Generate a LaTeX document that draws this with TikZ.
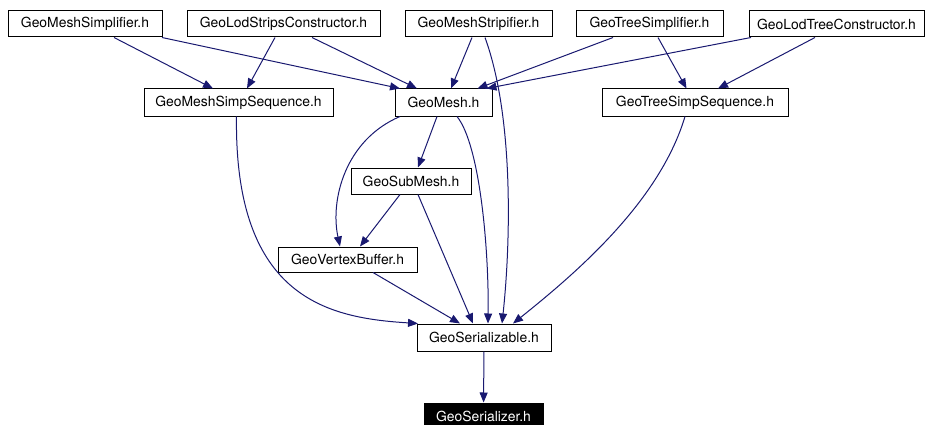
\documentclass[tikz,border=0pt]{standalone}
\usepackage{fontspec}
\setmainfont{TeX Gyre Heros}
\usetikzlibrary{arrows.meta}
\definecolor{edgeblue}{HTML}{191970}
\begin{document}
\begin{tikzpicture}[x=1pt,y=-1pt,
  box/.style={draw=black, line width=1pt, fill=white, rectangle, inner sep=0pt,
    minimum height=26pt, font=\fontsize{13.9}{16}\selectfont, text=black},
  focus/.style={box, fill=black, text=white},
  edge/.style={draw=edgeblue, line width=1pt, -{Triangle[length=10pt,width=8pt]}},
]
\useasboundingbox (0,0) rectangle (925,425);
% row 1
\node[box, minimum width=154pt] (msimp) at (85,24) {GeoMeshSimplifier.h};
\node[box, minimum width=193pt] (lodstrips) at (283.5,24) {GeoLodStripsConstructor.h};
\node[box, minimum width=147pt] (mstrip) at (478.5,24) {GeoMeshStripifier.h};
\node[box, minimum width=147pt] (tsimp) at (649.5,24) {GeoTreeSimplifier.h};
\node[box, minimum width=175pt] (lodtree) at (836.5,24) {GeoLodTreeConstructor.h};
% row 2
\node[box, minimum width=189pt, minimum height=27pt] (mss) at (238.5,102.5) {GeoMeshSimpSequence.h};
\node[box, minimum width=97pt, minimum height=27pt] (mesh) at (443.5,102.5) {GeoMesh.h};
\node[box, minimum width=186pt, minimum height=27pt] (tss) at (695,102.5) {GeoTreeSimpSequence.h};
% lower rows
\node[box, minimum width=120pt] (sub) at (411,181) {GeoSubMesh.h};
\node[box, minimum width=139pt, minimum height=25pt] (vb) at (347.5,259.5) {GeoVertexBuffer.h};
\node[box, minimum width=134pt, minimum height=27pt] (ser) at (484,337.5) {GeoSerializable.h};
\node[focus, minimum width=119pt] (serz) at (483.5,416) {GeoSerializer.h};

% edges from row 1
\draw[edge] ([xshift=29pt]msimp.south) -- ([xshift=-25.5pt]mss.north);
\draw[edge] ([xshift=77pt]msimp.south) -- ([xshift=-43.5pt]mesh.north);
\draw[edge] ([xshift=-8.5pt]lodstrips.south) -- ([xshift=8.5pt]mss.north);
\draw[edge] ([xshift=28.5pt]lodstrips.south) -- ([xshift=-26.5pt]mesh.north);
\draw[edge] ([xshift=-6.5pt]mstrip.south) -- ([xshift=7.5pt]mesh.north);
\draw[edge] ([xshift=6.5pt]mstrip.south) .. controls (515,120) and (510,250) .. ([xshift=18pt]ser.north);
\draw[edge] ([xshift=-36.5pt]tsimp.south) -- ([xshift=34pt]mesh.north);
\draw[edge] ([xshift=8.5pt]tsimp.south) -- ([xshift=-8.5pt]tss.north);
\draw[edge] ([xshift=-85.5pt]lodtree.south) -- ([xshift=43pt]mesh.north);
\draw[edge] ([xshift=-21.5pt]lodtree.south) -- ([xshift=23pt]tss.north);
% edges from row 2
\draw[edge] ([xshift=-2pt]mss.south) .. controls (234,300) and (330,318) .. ([xshift=-66pt]ser.north);
\draw[edge] ([xshift=-6.5pt]mesh.south) -- ([xshift=7pt]sub.north);
\draw[edge] ([xshift=-43.5pt]mesh.south) .. controls (345,140) and (330,200) .. ([xshift=-7.5pt]vb.north);
\draw[edge] ([xshift=13.5pt]mesh.south) .. controls (480,145) and (489,250) .. ([xshift=4pt]ser.north);
\draw[edge] ([xshift=-10pt]tss.south) .. controls (660,200) and (580,270) .. ([xshift=29pt]ser.north);
% lower edges
\draw[edge] ([xshift=-11pt]sub.south) -- ([xshift=12.5pt]vb.north);
\draw[edge] ([xshift=7pt]sub.south) -- ([xshift=-11pt]ser.north);
\draw[edge] ([xshift=25.5pt]vb.south) -- ([xshift=-24pt]ser.north);
\draw[edge] (ser) -- (serz);
\end{tikzpicture}
\end{document}
